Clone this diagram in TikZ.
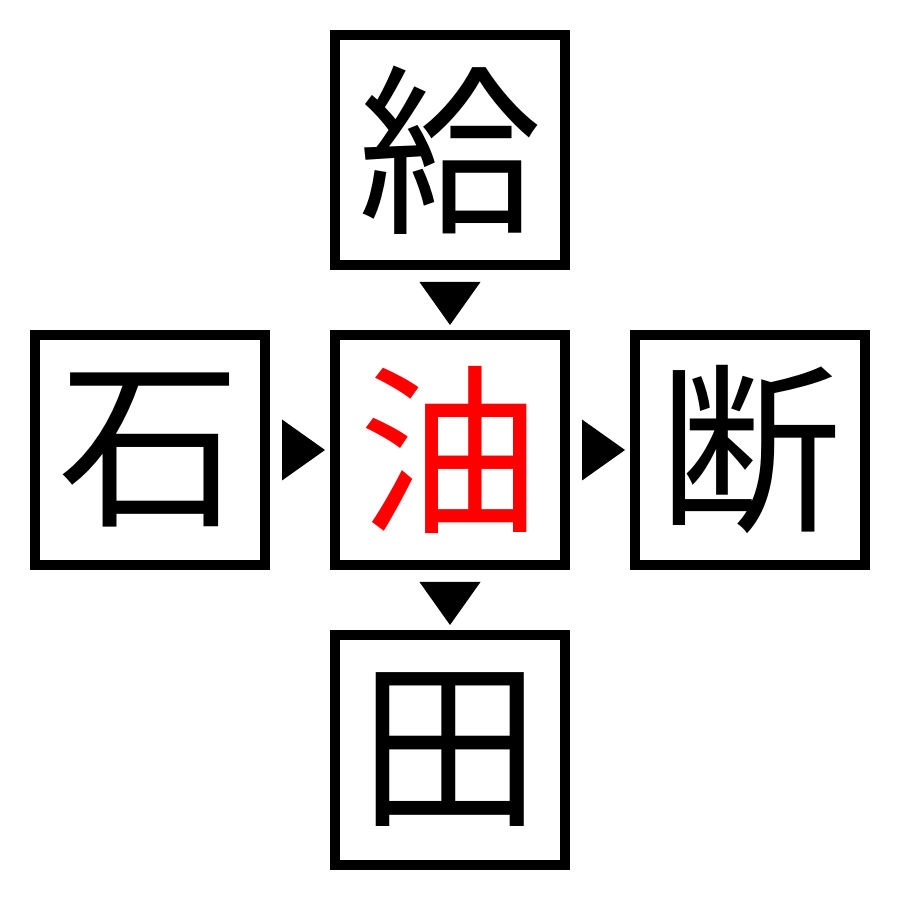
\documentclass[tikz,border=0pt]{standalone}
\usepackage{fontspec}
\newfontfamily\cjk{Noto Sans CJK JP}
\usetikzlibrary{calc}
\begin{document}
\begin{tikzpicture}
\useasboundingbox[fill=white] (0,0) rectangle (9,9);
\tikzset{
  kbox/.style={draw=black, line width=0.1cm, minimum size=2.3cm, inner sep=0pt, outer sep=0pt, font=\cjk\fontsize{52}{52}\selectfont},
  hl/.style={text=red},
  tri/.style={fill=black}
}
\node[kbox] (t) at (4.5,7.5) {給};
\node[kbox] (l) at (1.5,4.5) {石};
\node[kbox,hl] (c) at (4.5,4.5) {油};
\node[kbox] (r) at (7.5,4.5) {断};
\node[kbox] (b) at (4.5,1.5) {田};
\fill[tri] ($(t.south)+(-0.305,-0.17)$) -- ($(t.south)+(0.305,-0.17)$) -- ($(c.north)+(0,0.1)$) -- cycle;
\fill[tri] ($(c.south)+(-0.305,-0.17)$) -- ($(c.south)+(0.305,-0.17)$) -- ($(b.north)+(0,0.1)$) -- cycle;
\fill[tri] ($(l.east)+(0.17,0.305)$) -- ($(l.east)+(0.17,-0.305)$) -- ($(c.west)+(-0.1,0)$) -- cycle;
\fill[tri] ($(c.east)+(0.17,0.305)$) -- ($(c.east)+(0.17,-0.305)$) -- ($(r.west)+(-0.1,0)$) -- cycle;
\end{tikzpicture}
\end{document}
